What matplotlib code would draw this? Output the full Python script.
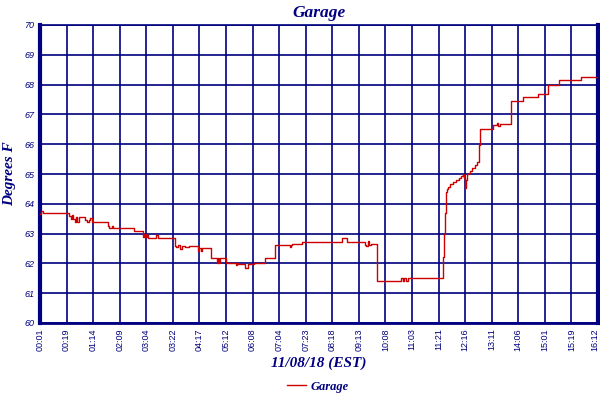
import matplotlib
matplotlib.use("Agg")
import matplotlib.pyplot as plt
import matplotlib.transforms as mtransforms
import numpy as np

# time labels (one grid column each, 20 samples per column)
time_labels = ["00:01", "00:19", "01:14", "02:09", "03:04", "03:22", "04:17",
               "05:12", "06:08", "07:04", "07:23", "08:18", "09:13", "10:08",
               "11:03", "11:21", "12:16", "13:11", "14:06", "15:01", "15:19",
               "16:12"]
samples_per_label = 20

# step breakpoints: sample index -> degrees F
sample_idx = [0, 1, 2, 22, 23, 24, 25, 26, 27, 28, 29, 34, 35, 37, 38, 39,
              51, 52, 54, 55, 70.5, 77.5, 78, 79.5, 80.5, 81.3, 87.5, 88.5,
              101.4, 102.5, 104, 105.5, 107, 109, 112, 119.2, 120, 121, 122,
              128.5, 133.5, 134.2, 135, 135.7, 136.5, 139.8, 147.5, 148.1,
              148.8, 154.3, 156.8, 161.1, 169.4, 176.9, 177.6, 188.2, 188.9,
              189.9, 197.4, 227.1, 230.9, 244.6, 245.4, 247.1, 247.9, 248.9,
              251.6, 253.9, 270.4, 271.5, 273, 274.2, 275.5, 276.8, 278,
              303.6, 304.3, 304.9, 305.6, 306.3, 307.1, 308.6, 310.9, 313.1,
              315.4, 316.9, 318.4, 319.2, 319.9, 320.9, 321.6, 322.9, 324,
              325.4, 327.2, 328.7, 330.4, 331.2, 340.7, 344, 345, 346, 354.5,
              363.5, 374.9, 382, 390.9, 407.2]
temps = [63.65, 63.75, 63.68, 63.6, 63.5, 63.62, 63.5, 63.4, 63.55, 63.4, 63.55,
         63.45, 63.38, 63.45, 63.52, 63.38,
         63.25, 63.2, 63.25, 63.18, 63.09, 62.88, 63.0, 62.88, 62.95, 62.84,
         62.95, 62.84,
         62.6, 62.56, 62.62, 62.5, 62.6, 62.56, 62.6, 62.43, 62.51, 62.43,
         62.51, 62.17, 62.03, 62.17, 62.03, 62.17, 62.17, 62.03, 61.95,
         62.03, 61.98, 61.83, 61.98, 62.03, 62.17, 62.62, 62.62, 62.56,
         62.62, 62.65, 62.73, 62.84, 62.73, 62.62, 62.6, 62.75, 62.62,
         62.66, 62.66, 61.41, 61.41, 61.5, 61.41, 61.5, 61.41, 61.5, 61.5,
         62.2, 63.0, 63.68, 64.41, 64.5, 64.58, 64.65, 64.72, 64.8, 64.85,
         64.93, 65.0, 64.85, 64.52, 64.8, 65.0, 65.05, 65.1, 65.19, 65.3,
         65.4, 65.97, 66.5, 66.64, 66.72, 66.62, 66.68, 67.45, 67.57, 67.67,
         68.0, 68.15, 68.24]

navy = "#000080"
red = "#cc0000"
serif = ["Liberation Serif", "DejaVu Serif"]
sans = ["Liberation Sans", "DejaVu Sans"]

n_end = samples_per_label * (len(time_labels) - 1)
xs = list(sample_idx) + [n_end]
ys = list(temps) + [temps[-1]]

fig = plt.figure(figsize=(6, 4), dpi=100)
ax = fig.add_axes([40 / 600, 77 / 400, 558 / 600, 298 / 400])

ax.step(xs, ys, where="post", color=red, linewidth=1.0, label="Garage",
        zorder=3)

ax.set_xlim(0, n_end)
ax.set_ylim(60, 70)
ax.set_xticks(np.arange(0, n_end + 1, samples_per_label))
ax.set_xticklabels(time_labels, rotation=90, fontsize=6.5, color=navy,
                   family=sans)
ax.set_yticks(np.arange(60, 71, 1))
ax.set_yticklabels([str(v) for v in range(60, 71)], fontsize=6.5,
                   color=navy, family=sans, style="italic")
ax.tick_params(length=0, pad=4)
ax.grid(True, color=navy, linewidth=1.2)
ax.set_axisbelow(True)

# last time label sits on the right edge, nudge it inside the figure
last = ax.get_xticklabels()[-1]
last.set_transform(last.get_transform() +
                   mtransforms.ScaledTranslation(-3 / 100, 0, fig.dpi_scale_trans))

for side, lw in [("left", 3), ("right", 3), ("bottom", 2), ("top", 1.2)]:
    ax.spines[side].set_color(navy)
    ax.spines[side].set_linewidth(lw)

ax.set_title("Garage", fontsize=12.5, color=navy, family=serif,
             style="italic", fontweight="bold", pad=6)
ax.set_xlabel("11/08/18 (EST)", fontsize=11, color=navy, family=serif,
              style="italic", fontweight="bold", labelpad=4)
ax.set_ylabel("Degrees F", fontsize=11, color=navy, family=serif,
              style="italic", fontweight="bold", labelpad=6)

fig.legend(loc="lower center", bbox_to_anchor=(0.53, -0.01), frameon=False,
           prop={"family": serif, "style": "italic", "weight": "bold",
                 "size": 9},
           labelcolor=navy, handlelength=1.5, handletextpad=0.4)

fig.savefig("out.png", dpi=100)
